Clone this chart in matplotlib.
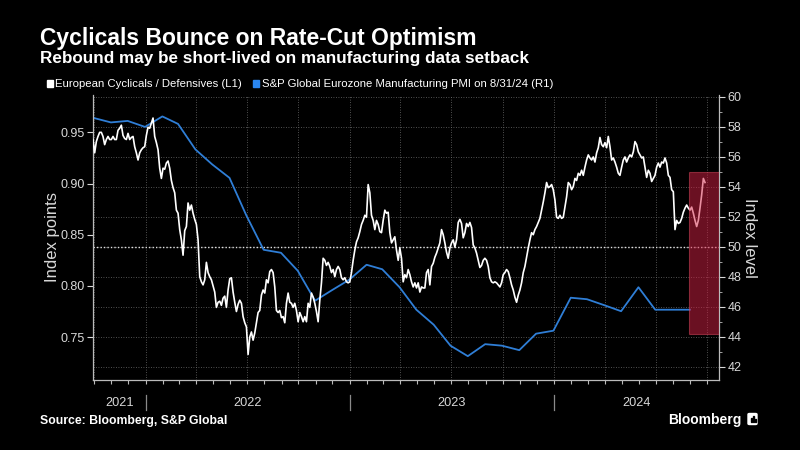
import numpy as np
import pandas as pd
import matplotlib
matplotlib.use('Agg')
import matplotlib.pyplot as plt
import matplotlib.dates as mdates
import matplotlib.ticker as mticker
from matplotlib.patches import Rectangle, FancyBboxPatch
from matplotlib.transforms import blended_transform_factory

plt.rcParams['font.family'] = ['Liberation Sans', 'DejaVu Sans']

ratio_start = '2021-09-29'
ratio_end = '2024-09-27'
ratio = [
    0.943, 0.930, 0.941, 0.946, 0.950, 0.950, 0.946, 0.938, 0.943, 0.946,
    0.943, 0.943, 0.946, 0.943, 0.943, 0.952, 0.954, 0.957, 0.947, 0.944,
    0.943, 0.949, 0.943, 0.945, 0.946, 0.936, 0.930, 0.923, 0.930, 0.933,
    0.935, 0.936, 0.947, 0.955, 0.954, 0.959, 0.964, 0.946, 0.940, 0.933,
    0.915, 0.905, 0.915, 0.914, 0.920, 0.922, 0.915, 0.903, 0.896, 0.891,
    0.874, 0.871, 0.855, 0.845, 0.830, 0.854, 0.858, 0.881, 0.874, 0.879,
    0.871, 0.865, 0.860, 0.845, 0.809, 0.804, 0.801, 0.806, 0.823, 0.813,
    0.809, 0.806, 0.800, 0.794, 0.779, 0.784, 0.785, 0.781, 0.788, 0.790,
    0.779, 0.796, 0.807, 0.808, 0.794, 0.784, 0.775, 0.782, 0.786, 0.783,
    0.770, 0.764, 0.760, 0.733, 0.750, 0.755, 0.747, 0.754, 0.764, 0.774,
    0.776, 0.791, 0.796, 0.793, 0.806, 0.803, 0.814, 0.816, 0.813, 0.799,
    0.776, 0.774, 0.776, 0.769, 0.770, 0.764, 0.783, 0.793, 0.784, 0.783,
    0.779, 0.783, 0.776, 0.765, 0.774, 0.770, 0.765, 0.770, 0.765, 0.783,
    0.779, 0.793, 0.789, 0.783, 0.775, 0.765, 0.786, 0.803, 0.827, 0.825,
    0.820, 0.823, 0.819, 0.813, 0.816, 0.809, 0.816, 0.819, 0.816, 0.808,
    0.806, 0.808, 0.804, 0.803, 0.804, 0.813, 0.825, 0.835, 0.843, 0.847,
    0.853, 0.860, 0.864, 0.869, 0.867, 0.899, 0.891, 0.869, 0.864, 0.855,
    0.864, 0.860, 0.853, 0.852, 0.864, 0.874, 0.871, 0.872, 0.852, 0.842,
    0.845, 0.848, 0.835, 0.825, 0.837, 0.827, 0.804, 0.811, 0.808, 0.816,
    0.811, 0.804, 0.799, 0.803, 0.798, 0.803, 0.794, 0.799, 0.798, 0.798,
    0.813, 0.816, 0.801, 0.819, 0.822, 0.828, 0.832, 0.837, 0.842, 0.855,
    0.850, 0.842, 0.833, 0.827, 0.837, 0.842, 0.845, 0.838, 0.845, 0.862,
    0.865, 0.861, 0.847, 0.852, 0.861, 0.858, 0.862, 0.857, 0.840, 0.837,
    0.832, 0.825, 0.818, 0.820, 0.825, 0.827, 0.825, 0.819, 0.808, 0.804,
    0.803, 0.804, 0.803, 0.801, 0.799, 0.803, 0.811, 0.813, 0.816, 0.814,
    0.808, 0.801, 0.796, 0.789, 0.784, 0.791, 0.796, 0.803, 0.813, 0.819,
    0.828, 0.837, 0.845, 0.852, 0.850, 0.855, 0.858, 0.862, 0.866, 0.874,
    0.882, 0.891, 0.901, 0.896, 0.897, 0.899, 0.894, 0.884, 0.867, 0.866,
    0.869, 0.866, 0.867, 0.877, 0.887, 0.901, 0.899, 0.894, 0.897, 0.905,
    0.903, 0.910, 0.908, 0.913, 0.908, 0.916, 0.923, 0.928, 0.925, 0.923,
    0.926, 0.921, 0.930, 0.935, 0.945, 0.938, 0.936, 0.940, 0.935, 0.946,
    0.936, 0.923, 0.925, 0.921, 0.916, 0.910, 0.908, 0.916, 0.923, 0.926,
    0.921, 0.925, 0.928, 0.926, 0.931, 0.941, 0.938, 0.931, 0.928, 0.925,
    0.926, 0.916, 0.906, 0.913, 0.910, 0.902, 0.905, 0.908, 0.916, 0.920,
    0.916, 0.921, 0.920, 0.925, 0.920, 0.908, 0.906, 0.894, 0.892, 0.855,
    0.864, 0.861, 0.862, 0.866, 0.872, 0.876, 0.879, 0.876, 0.874, 0.877,
    0.871, 0.864, 0.858, 0.864, 0.876, 0.889, 0.905, 0.901,
]

# S&P Global Eurozone Manufacturing PMI, month-end readings
pmi_start = '2021-09-30'
pmi = [
    58.6, 58.3, 58.4, 58.0, 58.7, 58.2, 56.5, 55.5, 54.6, 52.1,
    49.8, 49.6, 48.4, 46.4, 47.1, 47.8, 48.8, 48.5, 47.3, 45.8,
    44.8, 43.4, 42.7, 43.5, 43.4, 43.1, 44.2, 44.4, 46.6, 46.5,
    46.1, 45.7, 47.3, 45.8, 45.8, 45.8,
]

x_start, x_end = '2021-09-29', '2024-10-22'
years = [2021, 2022, 2023, 2024]
pmi_ticks = list(range(42, 61, 2))
ratio_ticks = [0.75, 0.80, 0.85, 0.90, 0.95]
highlight_start = '2024-08-30'
highlight_low, highlight_high = 44.2, 55.0

title = 'Cyclicals Bounce on Rate-Cut Optimism'
subtitle = 'Rebound may be short-lived on manufacturing data setback'
label_ratio = 'European Cyclicals / Defensives (L1)'
label_pmi = 'S&P Global Eurozone Manufacturing PMI on 8/31/24 (R1)'
source = 'Source: Bloomberg, S&P Global'

BLUE = '#2f7ed6'
TICK = '#d8d8d8'
GRID = '#6b6b6b'

ratio_dates = pd.date_range(ratio_start, ratio_end, periods=len(ratio))
pmi_dates = pd.date_range(pmi_start, periods=len(pmi), freq=pd.offsets.MonthEnd())

fig = plt.figure(figsize=(8, 4.5), dpi=100, facecolor='black')
ax = fig.add_axes([0.11625, 0.1556, 0.7825, 0.6333])
ax.set_facecolor('black')
ax2 = ax.twinx()

# PMI lives on the base axes (right scale), ratio on the twin (left scale, drawn on top)
ax.plot(pmi_dates, pmi, color=BLUE, lw=1.3, zorder=3)
ax2.plot(ratio_dates, ratio, color='white', lw=1.2, zorder=3)

ax.axhline(50, color='#e0e0e0', lw=1.0, ls=(0, (1, 1.5)), zorder=2)

x0 = mdates.date2num(pd.Timestamp(highlight_start))
x1 = mdates.date2num(pd.Timestamp(x_end))
box = Rectangle((x0, highlight_low), x1 - x0, highlight_high - highlight_low,
                transform=ax.transData, facecolor='#d42044', alpha=0.5,
                edgecolor='#e0485f', lw=0.8, zorder=6)
ax2.add_patch(box)

ax.set_xlim(pd.Timestamp(x_start), pd.Timestamp(x_end))
ax.set_ylim(41.11, 60.13)
ax2.set_ylim(0.7081, 0.9865)

ax.yaxis.tick_right()
ax.yaxis.set_label_position('right')
ax2.yaxis.tick_left()
ax2.yaxis.set_label_position('left')

ax.set_yticks(pmi_ticks)
ax.yaxis.set_minor_locator(mticker.MultipleLocator(1))
ax2.set_yticks(ratio_ticks)
ax2.yaxis.set_major_formatter(mticker.FormatStrFormatter('%.2f'))

ax.xaxis.set_major_locator(mdates.MonthLocator(bymonth=[1, 4, 7, 10]))
ax.xaxis.set_minor_locator(mdates.MonthLocator())
ax.xaxis.set_major_formatter(mticker.NullFormatter())

ax.grid(True, which='major', axis='both', color=GRID, lw=0.6, ls=(0, (1, 2)))
ax.set_axisbelow(True)

for a in (ax, ax2):
    for s in a.spines.values():
        s.set_visible(False)
ax.spines['bottom'].set_visible(True)
ax.spines['right'].set_visible(True)
ax2.spines['left'].set_visible(True)
for s in (ax.spines['bottom'], ax.spines['right'], ax2.spines['left']):
    s.set_color('#bbbbbb')
    s.set_linewidth(0.9)

ax.tick_params(axis='y', which='major', colors=TICK, labelsize=9, length=4, pad=2)
ax.tick_params(axis='y', which='minor', colors='#bbbbbb', length=2.5)
ax2.tick_params(axis='y', colors=TICK, labelsize=9, length=4, pad=2)
ax.tick_params(axis='x', which='both', colors='#bbbbbb', length=3, width=0.8)

ax2.set_ylabel('Index points', color=TICK, fontsize=12, labelpad=0)
ax.set_ylabel('Index level', color=TICK, fontsize=12, rotation=-90, labelpad=11)

# year labels and separators under the axis
trans = blended_transform_factory(ax.transData, ax.transAxes)
lo, hi = pd.Timestamp(x_start), pd.Timestamp(x_end)
for yr in years:
    a = max(pd.Timestamp(f'{yr}-01-01'), lo)
    b = min(pd.Timestamp(f'{yr + 1}-01-01'), hi)
    mid = a + (b - a) / 2
    ax.text(mid, -0.082, str(yr), transform=trans, ha='center', va='center',
            color=TICK, fontsize=9.2)
    if pd.Timestamp(f'{yr}-01-01') > lo:
        d = pd.Timestamp(f'{yr}-01-01')
        ax.plot([d, d], [-0.053, -0.105], transform=trans, clip_on=False,
                color='#8a8a8a', lw=0.9)

# header
fig.text(0.0495, 1 - 45 / 450, title, color='white', fontsize=16.5,
         weight='bold', va='baseline')
fig.text(0.0495, 1 - 63.3 / 450, subtitle, color='white', fontsize=12.3,
         weight='bold', va='baseline')

fig.patches.append(Rectangle((46.5 / 800, 1 - 87 / 450), 6.5 / 800, 6.5 / 450,
                             transform=fig.transFigure, color='white'))
fig.text(55 / 800, 1 - 87.3 / 450, label_ratio, color='white', fontsize=8.2,
         va='baseline')
fig.patches.append(Rectangle((252.5 / 800, 1 - 87 / 450), 6.5 / 800, 6.5 / 450,
                             transform=fig.transFigure, color='#2a86f0'))
fig.text(261.5 / 800, 1 - 87.3 / 450, label_pmi, color='white', fontsize=8.2,
         va='baseline')

# footer
fig.text(0.0495, 1 - 424 / 450, source, color='white', fontsize=8.8,
         weight='bold', va='baseline')
fig.text(668 / 800, 1 - 424 / 450, 'Bloomberg', color='white', fontsize=10,
         weight='bold', va='baseline')
fig.patches.append(FancyBboxPatch((748 / 800, 1 - 424.5 / 450), 9 / 800, 11 / 450,
                                  boxstyle='round,pad=0,rounding_size=0.002',
                                  transform=fig.transFigure, color='white'))
for bx, bh in [(750.5, 4), (752.5, 6), (754.5, 3)]:
    fig.patches.append(Rectangle((bx / 800, 1 - 421.5 / 450), 1.1 / 800, bh / 450,
                                 transform=fig.transFigure, color='black'))

fig.savefig('out.png', dpi=100, facecolor='black')
